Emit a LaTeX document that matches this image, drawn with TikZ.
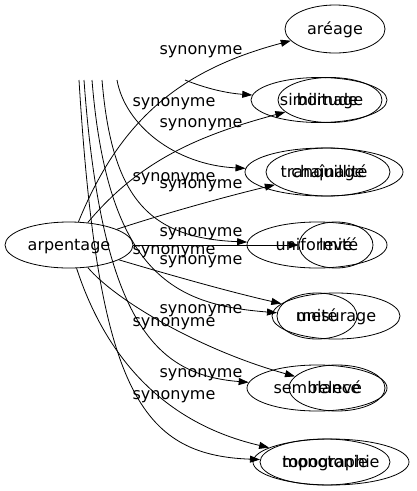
\documentclass[tikz,border=0pt]{standalone}
\usepackage{fontspec}
\setmainfont{DejaVu Sans}
\usetikzlibrary{shapes.geometric,arrows.meta}
\begin{document}
\begin{tikzpicture}[x=1pt,y=-1pt,
  word/.style={draw,ellipse,inner sep=0pt,line width=0.8pt,text height=13pt,text depth=3pt,font=\fontsize{16}{19}\selectfont},
  lbl/.style={font=\fontsize{16}{19}\selectfont,inner sep=0pt},
  syn/.style={line width=0.8pt,-{Triangle[length=10pt,width=7pt]}}]
\useasboundingbox (0,0) rectangle (417,491);
% nodes
\node[word,minimum width=128pt,minimum height=46pt] (arp) at (69,245) {arpentage};
\node[word,minimum width=100pt,minimum height=48pt] (areage) at (335,29) {aréage};
\node[word,minimum width=136pt,minimum height=45pt] (similitude) at (319,100) {similitude};
\node[word,minimum width=104pt,minimum height=45pt] (bornage) at (330,100) {bornage};
\node[word,minimum width=158pt,minimum height=48pt] (tranq) at (324,172) {tranquillité};
\node[word,minimum width=124pt,minimum height=48pt] (chainage) at (328,172) {chaînage};
\node[word,minimum width=140pt,minimum height=46pt] (uniformite) at (317,245) {uniformité};
\node[word,minimum width=74pt,minimum height=46pt] (leve) at (336,245) {levé};
\node[word,minimum width=128pt,minimum height=46pt] (mesurage) at (336,316) {mesurage};
\node[word,minimum width=80pt,minimum height=46pt] (unite) at (317,316) {unité};
\node[word,minimum width=140pt,minimum height=46pt] (semblance) at (317,388) {semblance};
\node[word,minimum width=96pt,minimum height=46pt] (releve) at (337,388) {relevé};
\node[word,minimum width=156pt,minimum height=46pt] (topo) at (331,462) {topographie};
\node[word,minimum width=130pt,minimum height=46pt] (monotonie) at (325,462) {monotonie};
% free ends at the top
\coordinate (s1) at (185,80);
\coordinate (s2) at (117,80);
\coordinate (s3) at (102,80);
\coordinate (s4) at (92,80);
\coordinate (s5) at (84,80);
\coordinate (s6) at (79,80);
% edges from arpentage
\draw[syn] (arp) .. controls (120,120) and (180,70) .. (areage);
\draw[syn] (arp) .. controls (140,160) and (200,135) .. (bornage);
\draw[syn] (arp) .. controls (160,215) and (220,198) .. (chainage);
\draw[syn] (arp) -- (leve);
\draw[syn] (arp) .. controls (170,275) and (230,292) .. (mesurage);
\draw[syn] (arp) .. controls (115,300) and (200,350) .. (releve);
\draw[syn] (arp) .. controls (100,340) and (150,420) .. (topo);
% edges from the top
\draw[syn] (s1) .. controls (205,88) and (225,93) .. (similitude);
\draw[syn] (s2) .. controls (125,125) and (175,165) .. (tranq);
\draw[syn] (s3) .. controls (112,200) and (150,238) .. (uniformite);
\draw[syn] (s4) .. controls (108,280) and (180,305) .. (unite);
\draw[syn] (s5) .. controls (102,330) and (160,375) .. (semblance);
\draw[syn] (s6) .. controls (98,390) and (140,455) .. (monotonie);
% labels
\node[lbl] (l1) at (201,52) {synonyme};
\node[lbl] (l2) at (174,104) {synonyme};
\node[lbl] (l3) at (201,125) {synonyme};
\node[lbl] (l4) at (174,179) {synonyme};
\node[lbl] (l5) at (201,186) {synonyme};
\node[lbl] (l6) at (201,234) {synonyme};
\node[lbl] (l7) at (174,252) {synonyme};
\node[lbl] (l8) at (201,262) {synonyme};
\node[lbl] (l9) at (201,311) {synonyme};
\node[lbl] (l10) at (174,324) {synonyme};
\node[lbl] (l11) at (201,375) {synonyme};
\node[lbl] (l12) at (174,397) {synonyme};
\end{tikzpicture}
\end{document}
